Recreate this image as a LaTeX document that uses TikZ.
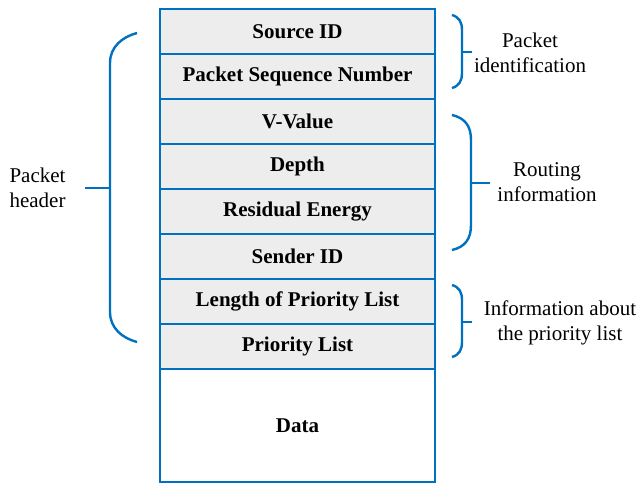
\documentclass[tikz,border=0pt]{standalone}
\usepackage{fontspec}
\setmainfont{LiberationSerif}[Extension=.ttf, UprightFont=*-Regular, BoldFont=*-Bold,
	ItalicFont=*-Italic, BoldItalicFont=*-BoldItalic]

\definecolor{fieldblue}{RGB}{0,112,192}
\definecolor{fieldgray}{RGB}{237,237,237}

\tikzset{
	field/.style={draw=fieldblue, line width=2.4pt, fill=fieldgray, minimum width=275pt,
			minimum height=45pt, inner sep=0pt, font=\fontsize{21}{25}\selectfont\bfseries},
	bracket/.style={draw=fieldblue, line width=2.4pt},
	note/.style={align=center, font=\fontsize{21}{25}\selectfont}
}

\begin{document}
\begin{tikzpicture}[x=1pt, y=-1pt]
		\useasboundingbox (0, 0) rectangle (639, 485);

		% header fields
		\foreach \name/\txt [count=\i] in {src/Source ID, seq/Packet Sequence Number,
				vval/V-Value, depth/Depth, energy/Residual Energy, sender/Sender ID,
				len/Length of Priority List, plist/Priority List}{
				\node[field] (\name) at (297.5, {31.5 + 45*(\i - 1)}) {\txt};
			}
		\node[field, fill=white, minimum height=113pt] (data) at (297.5, 425.5) {Data};

		% left brace
		\draw[bracket] (137, 33) .. controls (122, 37) and (110, 47) .. (110, 63) -- (110, 312)
		.. controls (110, 328) and (122, 338) .. (137, 342);
		\draw[bracket] (110, 188) -- (85, 188);
		\node[note, anchor=west, align=left] (header) at (6, 188) {Packet\\header};

		% right braces
		\draw[bracket] (452, 15) .. controls (459, 17) and (462, 22) .. (462, 30) -- (462, 73)
		.. controls (462, 81) and (459, 86) .. (452, 88);
		\draw[bracket] (462, 52) -- (472, 52);
		\node[note] (ident) at (530, 52.5) {Packet\\identification};

		\draw[bracket] (452, 115) .. controls (465, 118) and (471, 126) .. (471, 140) -- (471, 225)
		.. controls (471, 239) and (465, 247) .. (452, 250);
		\draw[bracket] (471, 183) -- (490, 183);
		\node[note] (routing) at (547, 182.5) {Routing\\information};

		\draw[bracket] (452, 285) .. controls (459, 287) and (462, 292) .. (462, 300) -- (462, 342)
		.. controls (462, 350) and (459, 355) .. (452, 357);
		\draw[bracket] (462, 322) -- (472, 322);
		\node[note] (about) at (560, 322.5) {Information about\\the priority list};
	\end{tikzpicture}
\end{document}
